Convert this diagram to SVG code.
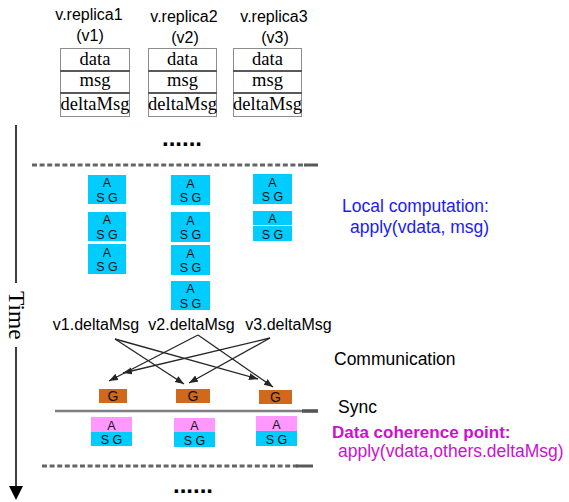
<svg xmlns="http://www.w3.org/2000/svg" width="569" height="502" viewBox="0 0 569 502">
<defs>
<style>
.sans{font-family:"Liberation Sans",Arial,sans-serif;}
.serif{font-family:"Liberation Serif","Times New Roman",serif;}
.lbl{font-size:16px;fill:#000;text-anchor:middle;}
.cell{fill:#fff;stroke:#8c8c8c;stroke-width:1;}
.div{stroke:#595959;stroke-width:2;}
.ct{font-size:18.5px;fill:#000;text-anchor:middle;}
.blue{fill:#00CCFF;}
.pink{fill:#FF99FF;}
.orange{fill:#D0691C;}
.bt{font-size:12.5px;fill:#111;text-anchor:middle;}
.gt{font-size:14px;fill:#111;text-anchor:middle;}
.dash{stroke:#656565;stroke-width:3;stroke-dasharray:5 2.6;fill:none;}
.conn{stroke:#262626;stroke-width:1.3;fill:none;marker-end:url(#ah);}
.note{font-size:17.5px;}
</style>
<marker id="ah" markerUnits="userSpaceOnUse" markerWidth="10" markerHeight="8" refX="9" refY="3.5" orient="auto">
<path d="M0,0 L9,3.5 L0,7 z" fill="#262626"/>
</marker>
</defs>
<rect width="569" height="502" fill="#fff"/>

<g id="replica1">
<text class="sans lbl" x="89" y="20">v.replica1</text>
<text class="sans lbl" x="90" y="41">(v1)</text>
<rect class="cell" x="60.5" y="48.5" width="69" height="68"/>
<line class="div" x1="60" y1="71" x2="130" y2="71"/>
<line class="div" x1="60" y1="93" x2="130" y2="93"/>
<text class="serif ct" x="95" y="65">data</text>
<text class="serif ct" x="95" y="86">msg</text>
<text class="serif ct" x="95" y="110">deltaMsg</text>
</g>
<g id="replica2">
<text class="sans lbl" x="184" y="22">v.replica2</text>
<text class="sans lbl" x="185" y="43">(v2)</text>
<rect class="cell" x="148.5" y="48.5" width="68" height="68"/>
<line class="div" x1="148" y1="71" x2="217" y2="71"/>
<line class="div" x1="148" y1="93" x2="217" y2="93"/>
<text class="serif ct" x="182.5" y="65">data</text>
<text class="serif ct" x="182.5" y="86">msg</text>
<text class="serif ct" x="182.5" y="110">deltaMsg</text>
</g>
<g id="replica3">
<text class="sans lbl" x="274" y="22">v.replica3</text>
<text class="sans lbl" x="275" y="43">(v3)</text>
<rect class="cell" x="233.5" y="48.5" width="68" height="68"/>
<line class="div" x1="233" y1="71" x2="302" y2="71"/>
<line class="div" x1="233" y1="93" x2="302" y2="93"/>
<text class="serif ct" x="267.5" y="65">data</text>
<text class="serif ct" x="267.5" y="86">msg</text>
<text class="serif ct" x="267.5" y="110">deltaMsg</text>
</g>

<g id="ellipsis-top">
<text class="sans" x="182" y="146" font-size="24" font-weight="bold" text-anchor="middle" fill="#000">......</text>
</g>

<g id="time-axis">
<line x1="16" y1="125" x2="16" y2="283" stroke="#000" stroke-width="1.5"/>
<line x1="16" y1="347" x2="16" y2="488" stroke="#000" stroke-width="1.5"/>
<path d="M9,486 L23,486 L16,500 z" fill="#000"/>
<text class="serif" transform="translate(9,291) rotate(90)" font-size="23.5" fill="#000">Time</text>
</g>

<g id="dashed-lines">
<line class="dash" x1="32" y1="165" x2="306" y2="165"/>
<line x1="304" y1="165" x2="318" y2="165" stroke="#595959" stroke-width="3"/>
<line class="dash" x1="42" y1="466" x2="298" y2="466"/>
<line x1="296" y1="466" x2="313" y2="466" stroke="#595959" stroke-width="3"/>
</g>

<g id="local-v1">
<rect class="blue" x="88" y="175" width="38" height="29"/>
<text class="sans bt" x="107" y="187">A</text><text class="sans bt" x="107" y="201.5">S G</text>
<rect class="blue" x="88" y="212" width="38" height="29"/>
<text class="sans bt" x="107" y="224">A</text><text class="sans bt" x="107" y="238.5">S G</text>
<rect class="blue" x="88" y="244" width="38" height="30"/>
<text class="sans bt" x="107" y="256.5">A</text><text class="sans bt" x="107" y="271">S G</text>
</g>
<g id="local-v2">
<rect class="blue" x="171" y="175" width="39" height="30"/>
<text class="sans bt" x="190.5" y="187.5">A</text><text class="sans bt" x="190.5" y="202">S G</text>
<rect class="blue" x="171" y="212" width="39" height="30"/>
<text class="sans bt" x="190.5" y="224.5">A</text><text class="sans bt" x="190.5" y="239">S G</text>
<rect class="blue" x="171" y="245" width="39" height="30"/>
<text class="sans bt" x="190.5" y="257.5">A</text><text class="sans bt" x="190.5" y="272">S G</text>
<rect class="blue" x="171" y="281" width="39" height="29"/>
<text class="sans bt" x="190.5" y="293">A</text><text class="sans bt" x="190.5" y="307.5">S G</text>
</g>
<g id="local-v3">
<rect class="blue" x="253" y="174" width="39" height="30"/>
<text class="sans bt" x="272.5" y="186.5">A</text><text class="sans bt" x="272.5" y="201">S G</text>
<rect class="blue" x="253" y="211" width="39" height="14"/>
<text class="sans bt" x="272.5" y="223">A</text>
<rect class="blue" x="253" y="226" width="39" height="15"/>
<text class="sans bt" x="272.5" y="238.5">S G</text>
</g>

<g id="delta-labels">
<text class="sans" x="96" y="330" font-size="16" text-anchor="middle" fill="#000">v1.deltaMsg</text>
<text class="sans" x="191.5" y="330" font-size="16" text-anchor="middle" fill="#000">v2.deltaMsg</text>
<text class="sans" x="288.5" y="330" font-size="16" text-anchor="middle" fill="#000">v3.deltaMsg</text>
</g>

<g id="connectors">
<line class="conn" x1="115" y1="339" x2="184" y2="384"/>
<line class="conn" x1="115" y1="339" x2="258" y2="379"/>
<line class="conn" x1="198" y1="335" x2="109" y2="381"/>
<line class="conn" x1="198" y1="335" x2="273" y2="387"/>
<line class="conn" x1="270" y1="338" x2="123" y2="373"/>
<line class="conn" x1="270" y1="338" x2="189" y2="383"/>
</g>

<g id="g-v1"><rect class="orange" x="99" y="389" width="28" height="14"/><text class="sans gt" x="113" y="401">G</text></g>
<g id="g-v2"><rect class="orange" x="176" y="389" width="34" height="14"/><text class="sans gt" x="193" y="401">G</text></g>
<g id="g-v3"><rect class="orange" x="259" y="390" width="33" height="14"/><text class="sans gt" x="275.5" y="402">G</text></g>

<g id="sync-line">
<line x1="55" y1="411" x2="318" y2="411" stroke="#7f7f7f" stroke-width="2.5"/>
<line x1="302" y1="411" x2="318" y2="411" stroke="#555" stroke-width="3.5"/>
</g>

<g id="coh-v1">
<rect class="pink" x="91" y="417" width="41" height="15"/><rect class="blue" x="91" y="432" width="41" height="14"/>
<text class="sans bt" x="111.5" y="429.5">A</text><text class="sans bt" x="111.5" y="444">S G</text>
</g>
<g id="coh-v2">
<rect class="pink" x="174" y="418" width="41" height="14"/><rect class="blue" x="174" y="432" width="41" height="15"/>
<text class="sans bt" x="194.5" y="430">A</text><text class="sans bt" x="194.5" y="444.5">S G</text>
</g>
<g id="coh-v3">
<rect class="pink" x="256" y="416" width="41" height="15"/><rect class="blue" x="256" y="431" width="41" height="15"/>
<text class="sans bt" x="276.5" y="428.5">A</text><text class="sans bt" x="276.5" y="443.5">S G</text>
</g>

<g id="ellipsis-bottom">
<text class="sans" x="193" y="493" font-size="24" font-weight="bold" text-anchor="middle" fill="#000">......</text>
</g>

<g id="annotations">
<text class="sans note" x="342" y="212" fill="#1A1AFF">Local computation:</text>
<text class="sans note" x="350" y="233" fill="#1A1AFF">apply(vdata, msg)</text>
<text class="sans note" x="334" y="365" fill="#000">Communication</text>
<text class="sans note" x="338" y="413" fill="#000">Sync</text>
<text class="sans" x="332" y="438" font-size="17" font-weight="bold" fill="#CC11CC">Data coherence point:</text>
<text class="sans" x="338" y="457" font-size="17.5" fill="#CC11CC">apply(vdata,others.deltaMsg)</text>
</g>
</svg>
